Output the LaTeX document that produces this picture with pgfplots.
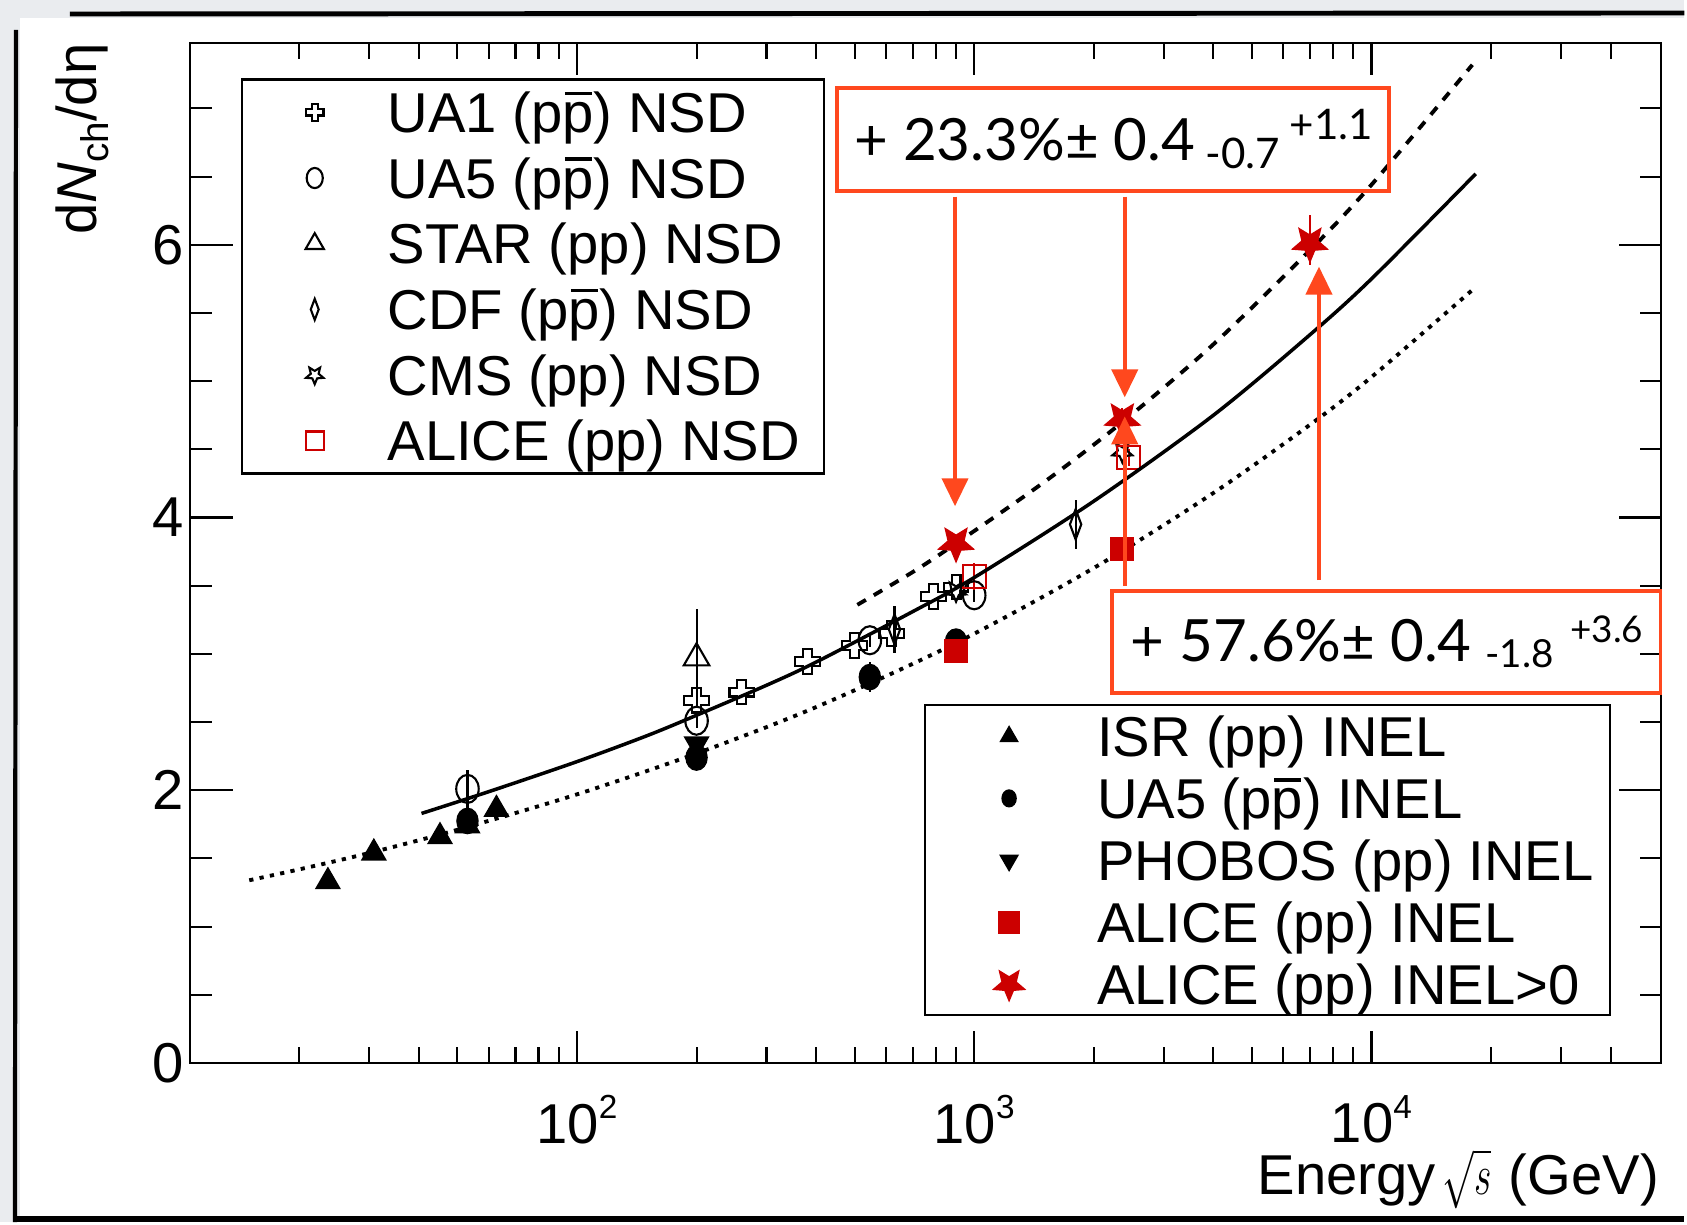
\documentclass[border=0pt]{standalone}
\usepackage{fontspec}
\setmainfont{Liberation Sans}
\newfontfamily\gill{Lato}
\usepackage{pgfplots}
\pgfplotsset{compat=1.18}
\usetikzlibrary{arrows.meta}

\definecolor{bggray}{RGB}{234,236,239}
\definecolor{annot}{RGB}{255,72,30}
\definecolor{datred}{RGB}{204,0,0}

% open cross (UA1)
\pgfdeclareplotmark{ocross}{%
  \pgfpathmoveto{\pgfqpoint{-0.36\pgfplotmarksize}{\pgfplotmarksize}}%
  \pgfpathlineto{\pgfqpoint{0.36\pgfplotmarksize}{\pgfplotmarksize}}%
  \pgfpathlineto{\pgfqpoint{0.36\pgfplotmarksize}{0.36\pgfplotmarksize}}%
  \pgfpathlineto{\pgfqpoint{\pgfplotmarksize}{0.36\pgfplotmarksize}}%
  \pgfpathlineto{\pgfqpoint{\pgfplotmarksize}{-0.36\pgfplotmarksize}}%
  \pgfpathlineto{\pgfqpoint{0.36\pgfplotmarksize}{-0.36\pgfplotmarksize}}%
  \pgfpathlineto{\pgfqpoint{0.36\pgfplotmarksize}{-\pgfplotmarksize}}%
  \pgfpathlineto{\pgfqpoint{-0.36\pgfplotmarksize}{-\pgfplotmarksize}}%
  \pgfpathlineto{\pgfqpoint{-0.36\pgfplotmarksize}{-0.36\pgfplotmarksize}}%
  \pgfpathlineto{\pgfqpoint{-\pgfplotmarksize}{-0.36\pgfplotmarksize}}%
  \pgfpathlineto{\pgfqpoint{-\pgfplotmarksize}{0.36\pgfplotmarksize}}%
  \pgfpathlineto{\pgfqpoint{-0.36\pgfplotmarksize}{0.36\pgfplotmarksize}}%
  \pgfpathclose\pgfusepathqstroke}

% five-point star, point down
\def\starpath{%
  \pgfpathmoveto{\pgfpointpolar{270}{\pgfplotmarksize}}%
  \pgfpathlineto{\pgfpointpolar{306}{0.45\pgfplotmarksize}}%
  \pgfpathlineto{\pgfpointpolar{342}{\pgfplotmarksize}}%
  \pgfpathlineto{\pgfpointpolar{18}{0.45\pgfplotmarksize}}%
  \pgfpathlineto{\pgfpointpolar{54}{\pgfplotmarksize}}%
  \pgfpathlineto{\pgfpointpolar{90}{0.45\pgfplotmarksize}}%
  \pgfpathlineto{\pgfpointpolar{126}{\pgfplotmarksize}}%
  \pgfpathlineto{\pgfpointpolar{162}{0.45\pgfplotmarksize}}%
  \pgfpathlineto{\pgfpointpolar{198}{\pgfplotmarksize}}%
  \pgfpathlineto{\pgfpointpolar{234}{0.45\pgfplotmarksize}}%
  \pgfpathclose}
\pgfdeclareplotmark{ostar}{\starpath\pgfusepathqstroke}
\pgfdeclareplotmark{fstar}{\starpath\pgfusepathqfillstroke}

\newcommand\pbar{\makebox[0pt][l]{\hspace{0.04em}\rule[0.66em]{0.48em}{0.07em}}p}
\newcommand\xtl[1]{10\raisebox{7pt}{\fontsize{9.5}{11}\selectfont #1}}

\begin{document}
\begin{tikzpicture}
\begin{scope}[x=0.01cm,y=-0.01cm]
  \fill[bggray] (0,0) rectangle (1687,1224);
  \fill[white] (20,18) rectangle (1687,1219);
  \draw[line width=1.4pt] (70,14) -- (1687,13);
  \draw[line width=1.2pt] (16,30) -- (15,1224);
  \draw[line width=1.5pt] (15,1221) -- (1687,1221);
  \node[rotate=90, anchor=base east, inner sep=0pt, font=\fontsize{16}{19}\selectfont]
    at (97,43) {d\textit{N}\raisebox{-0.2em}{\fontsize{11}{12}\selectfont ch}/dη};
  \node[anchor=base east, inner sep=0pt, font=\fontsize{16}{19}\selectfont]
    at (1662,1196) {Energy\kern2pt\scalebox{0.62}[0.95]{$\sqrt{s}$}\kern5pt(GeV)};
\end{scope}

% NSD measurements, x ticks
\begin{axis}[
  at={(1.90cm,-10.64cm)}, anchor=south west,
  scale only axis, width=14.73cm, height=10.21cm,
  xmode=log, xmin=10.6, xmax=53700, ymin=0, ymax=7.48,
  axis line style={line width=0.6pt},
  tick style={line width=0.6pt, black},
  tick label style={font=\fontsize{16}{19}\selectfont},
  xtick={100,1000,10000}, xticklabels={{\xtl{2}},{\xtl{3}},{\xtl{4}}},
  minor xtick={20,30,40,50,60,70,80,90,200,300,400,500,600,700,800,900,
    2000,3000,4000,5000,6000,7000,8000,9000,20000,30000,40000},
  xticklabel style={yshift=-0.2cm},
  ytick=\empty,
  major tick length=0.32cm, minor tick length=0.16cm,
  legend cell align=left,
  legend image code/.code={%
    \path[draw=none,fill=none] (-0.49cm,-0.1cm) rectangle (0.73cm,0.1cm);
    \draw[#1] plot coordinates {(0cm,0cm)};},
  legend style={at={(0.0346,0.9652)}, anchor=north west, draw=black,
    line width=0.6pt, inner xsep=0.24cm, inner ysep=0pt,
    row sep=0pt, column sep=0pt, font=\fontsize{16}{19}\selectfont,
    nodes={inner sep=0pt, text height=15.1pt, text depth=3.6pt}},
  error bars/y dir=both, error bars/y explicit, error bars/error mark=none,
  error bars/error bar style={line width=0.6pt},
]
\addplot[only marks, mark=ocross, mark size=3.5pt, line width=0.6pt,
  legend image post style={mark size=2.5pt}]
  coordinates {(200,2.66) (260,2.72) (380,2.945) (500,3.06) (620,3.15) (790,3.42) (900,3.49)};
\addlegendentry{UA1 (p\pbar) NSD}
\addplot[only marks, mark=o, mark size=3.2pt, mark options={yscale=1.25}, line width=0.6pt,
  legend image post style={mark size=2.3pt}]
  coordinates {(53,2.01) +- (0,0.14) (200,2.51) +- (0,0.05) (546,3.10) +- (0,0.05) (1000,3.43) +- (0,0.05)};
\addlegendentry{UA5 (p\pbar) NSD}
\addplot[only marks, mark=triangle, mark size=4.2pt, line width=0.6pt,
  legend image post style={mark size=3pt}]
  coordinates {(200,2.97) +- (0,0.36)};
\addlegendentry{STAR (pp) NSD}
\addplot[only marks, mark=diamond, mark size=4.3pt, mark options={xscale=0.5}, line width=0.6pt,
  legend image post style={mark size=3pt}]
  coordinates {(630,3.18) +- (0,0.17) (1800,3.95) +- (0,0.18)};
\addlegendentry{CDF (p\pbar) NSD}
\addplot[only marks, mark=ostar, mark size=3pt, line width=0.6pt,
  legend image post style={mark size=2.6pt}]
  coordinates {(900,3.46) (2360,4.48)};
\addlegendentry{CMS (pp) NSD}
\addplot[only marks, mark=square, datred, mark size=3.3pt, line width=0.6pt,
  legend image post style={mark size=2.6pt}]
  coordinates {(1000,3.57) +- (0,0.1) (2450,4.44) +- (0,0.06)};
\addlegendentry{ALICE (pp) NSD}
\end{axis}

% INEL measurements, fits, y ticks
\begin{axis}[
  at={(1.90cm,-10.64cm)}, anchor=south west,
  scale only axis, width=14.73cm, height=10.21cm,
  xmode=log, xmin=10.6, xmax=53700, ymin=0, ymax=7.48,
  axis line style={line width=0.6pt},
  tick style={line width=0.6pt, black},
  tick label style={font=\fontsize{16}{19}\selectfont},
  xtick=\empty,
  ytick={0,2,4,6}, yticklabels={0,2,4,6},
  minor ytick={0.5,1,1.5,2.5,3,3.5,4.5,5,5.5,6.5,7},
  yticklabel style={xshift=0.06cm},
  major tick length=0.43cm, minor tick length=0.22cm,
  legend cell align=left,
  legend image code/.code={%
    \path[draw=none,fill=none] (-0.67cm,-0.1cm) rectangle (0.88cm,0.1cm);
    \draw[#1] plot coordinates {(0cm,0cm)};},
  legend style={at={(0.499,0.3516)}, anchor=north west, draw=black,
    line width=0.6pt, inner xsep=0.17cm, inner ysep=0pt,
    row sep=0pt, column sep=0pt, font=\fontsize{16}{19}\selectfont,
    nodes={inner sep=0pt, text height=14.6pt, text depth=3.05pt}},
  error bars/y dir=both, error bars/y explicit, error bars/error mark=none,
  error bars/error bar style={line width=0.6pt},
]
% NSD fit
\addplot[forget plot, smooth, line width=1pt] coordinates {
  (40.6,1.83) (60,1.99) (100,2.21) (150,2.40) (200,2.55) (300,2.77) (400,2.94)
  (700,3.31) (1000,3.56) (2000,4.12) (4000,4.75) (7000,5.34) (10000,5.75) (18300,6.52)};
% INEL>0 fit
\addplot[forget plot, smooth, line width=1.1pt, dash pattern=on 2.8pt off 2.6pt] coordinates {
  (508,3.36) (700,3.60) (900,3.81) (1500,4.26) (2360,4.70) (4000,5.27)
  (7000,5.96) (10000,6.44) (17950,7.32)};
% INEL fit
\addplot[forget plot, smooth, line width=1.1pt, dash pattern=on 1.2pt off 1.8pt] coordinates {
  (14.96,1.34) (20,1.42) (30,1.54) (50,1.71) (100,1.97) (200,2.27) (400,2.61)
  (900,3.08) (2000,3.63) (4000,4.18) (7000,4.68) (10000,5.03) (18300,5.69)};

\addplot[only marks, mark=triangle*, mark size=3.9pt,
  legend image post style={mark size=2.6pt}]
  coordinates {(23.6,1.33) (30.8,1.54) (45.2,1.66) (53,1.74) (62.7,1.86)};
\addlegendentry{ISR (pp) INEL}
\addplot[only marks, mark=*, mark size=3pt, mark options={yscale=1.2},
  legend image post style={mark size=1.9pt}]
  coordinates {(53,1.775) +- (0,0.05) (200,2.24) +- (0,0.05) (546,2.83) +- (0,0.11) (900,3.09) +- (0,0.05)};
\addlegendentry{UA5 (p\pbar) INEL}
\addplot[only marks, mark=triangle*, mark options={rotate=180}, mark size=3.9pt,
  legend image post style={mark size=2.7pt}]
  coordinates {(200,2.34)};
\addlegendentry{PHOBOS (pp) INEL}
\addplot[only marks, mark=square*, datred, mark size=3.2pt,
  legend image post style={mark size=2.9pt}]
  coordinates {(900,3.02) (2360,3.77)};
\addlegendentry{ALICE (pp) INEL}
\addplot[only marks, mark=fstar, datred, mark size=5.2pt,
  legend image post style={mark size=4.4pt}]
  coordinates {(900,3.81) +- (0,0.06) (2360,4.72) +- (0,0.08) (7000,6.01) += (0,0.21) -= (0,0.16)};
\addlegendentry{ALICE (pp) INEL>0}
\end{axis}

% annotation boxes and arrows
\begin{scope}[x=0.01cm,y=-0.01cm]
  \draw[annot, line width=1.1pt] (838,88) rectangle (1391,191.5);
  \draw[annot, line width=1.1pt] (1113.5,592) rectangle (1663,694);
  \begin{scope}[annot, line width=1.2pt, -{Triangle[width=0.26cm,length=0.28cm]}]
    \draw (956.5,197) -- (956.5,507);
    \draw (1126.5,197) -- (1126.5,398);
    \draw (1126.5,587) -- (1126.5,417);
    \draw (1321,581) -- (1321,267);
  \end{scope}
  \begin{scope}[every node/.style={anchor=base west, inner sep=0pt}]
    \node[font=\gill\fontsize{16.6}{20}\selectfont] at (855,161) {+ 23.3\%± 0.4};
    \node[font=\gill\fontsize{12}{14}\selectfont] at (1207,169) {-0.7};
    \node[font=\gill\fontsize{12}{14}\selectfont] at (1291,140) {+1.1};
    \node[font=\gill\fontsize{16.6}{20}\selectfont] at (1132,663) {+ 57.6\%± 0.4};
    \node[font=\gill\fontsize{11}{13}\selectfont] at (1487,669) {-1.8};
    \node[font=\gill\fontsize{10.5}{12}\selectfont] at (1572,643) {+3.6};
  \end{scope}
\end{scope}
\end{tikzpicture}
\end{document}
